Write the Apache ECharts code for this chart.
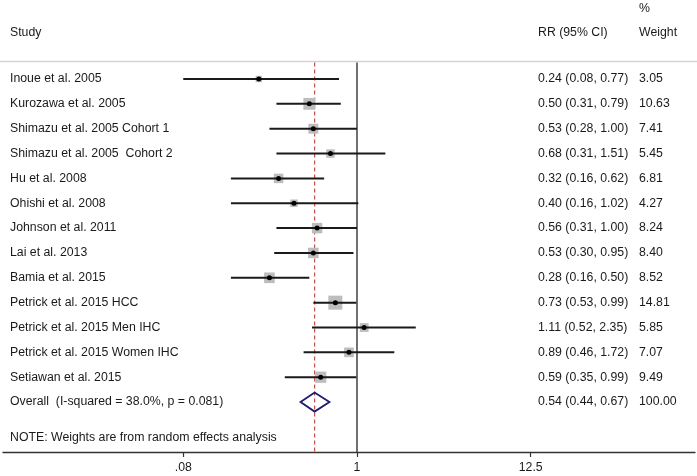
<!DOCTYPE html>
<html><head><meta charset="utf-8">
<script src="https://cdn.jsdelivr.net/npm/echarts@6/dist/echarts.min.js"></script>
<style>html,body{margin:0;padding:0;background:#fff}#c{width:697px;height:476px}</style>
</head><body><div id="c"></div>
<script>
// ---- data ----
const studies = ['Inoue et al. 2005','Kurozawa et al. 2005','Shimazu et al. 2005 Cohort 1','Shimazu et al. 2005  Cohort 2','Hu et al. 2008','Ohishi et al. 2008','Johnson et al. 2011','Lai et al. 2013','Bamia et al. 2015','Petrick et al. 2015 HCC','Petrick et al. 2015 Men IHC','Petrick et al. 2015 Women IHC','Setiawan et al. 2015'];
const rr      = [0.24,0.50,0.53,0.68,0.32,0.40,0.56,0.53,0.28,0.73,1.11,0.89,0.59];
const ciLow   = [0.08,0.31,0.28,0.31,0.16,0.16,0.31,0.30,0.16,0.53,0.52,0.46,0.35];
const ciHigh  = [0.77,0.79,1.00,1.51,0.62,1.02,1.00,0.95,0.50,0.99,2.35,1.72,0.99];
const weights = [3.05,10.63,7.41,5.45,6.81,4.27,8.24,8.40,8.52,14.81,5.85,7.07,9.49];
const overallLabel = 'Overall  (I-squared = 38.0%, p = 0.081)';
const overallRR = 0.54, overallLow = 0.44, overallHigh = 0.67, overallWeight = 100.00;
const tickValues = [0.08, 1, 12.5];
const tickLabels = ['.08', '1', '12.5'];
const noteText = 'NOTE: Weights are from random effects analysis';
const headerStudy = 'Study', headerRR = 'RR (95% CI)', headerPct = '%', headerWeight = 'Weight';

// ---- layout ----
const L = Math.log10;
const FONT = '"Liberation Sans", Arial, sans-serif';
const TXT = '#1a1a1a';
const ROW_OVERALL = studies.length;
const ROW_NOTE = 14.45, ROW_HEAD = -1.85, ROW_PCT = -2.82, ROW_TOP = -0.70;
const X_STUDY = 10, X_RR = 538, X_W = 639;
const FS = 12.3;
const fmt = v => v.toFixed(2);

const chart = echarts.init(document.getElementById('c'), null, {renderer: 'canvas'});

function textEl(x, y, s) {
  return {type: 'text', x: x, y: y, style: {text: s, fill: TXT, font: FS + 'px ' + FONT, verticalAlign: 'middle', align: 'left'}};
}

const option = {
  backgroundColor: '#fff',
  animation: false,
  grid: {left: 3, right: 2, top: 0, bottom: 24, containLabel: false, outerBoundsMode: 'none'},
  xAxis: {
    type: 'value', min: -2.235, max: 2.134,
    splitLine: {show: false},
    axisLine: {show: true, onZero: false, lineStyle: {color: '#333', width: 1.3}},
    axisTick: {show: true, length: 5, inside: false, customValues: tickValues.map(L), lineStyle: {color: '#333', width: 1.2}},
    axisLabel: {show: true, margin: 10, color: TXT, fontSize: FS, fontFamily: FONT,
      customValues: tickValues.map(L),
      formatter: v => { let best = 0; tickValues.forEach((t, i) => { if (Math.abs(L(t) - v) < Math.abs(L(tickValues[best]) - v)) best = i; }); return tickLabels[best]; }}
  },
  yAxis: {type: 'value', min: -3.179, max: 15.01, inverse: true, show: false},
  series: [
    { // reference lines
      type: 'custom', silent: true, z: 1,
      data: [[0]],
      renderItem: (params, api) => {
        const top = api.coord([0, ROW_TOP])[1];
        const bot = api.coord([0, 15.01])[1];
        const x1 = api.coord([0, 0])[0];
        const xr = api.coord([L(overallRR), 0])[0];
        const xl = api.coord([-2.235, 0])[0] - 3;
        const xe = api.coord([2.134, 0])[0] + 2;
        return {type: 'group', children: [
          {type: 'line', shape: {x1: xl, y1: top, x2: xe, y2: top}, style: {stroke: '#d4d4d4', lineWidth: 1.5}},
          {type: 'line', shape: {x1: x1, y1: top + 1, x2: x1, y2: bot}, style: {stroke: '#333', lineWidth: 1.4}},
          {type: 'line', shape: {x1: xr, y1: top + 1, x2: xr, y2: bot}, style: {stroke: '#c0504d', lineWidth: 1.2, lineDash: [4, 3]}}
        ]};
      }
    },
    { // study rows
      type: 'custom', z: 3,
      data: studies.map((s, i) => [i, L(rr[i]), L(ciLow[i]), L(ciHigh[i]), weights[i]]),
      renderItem: (params, api) => {
        const row = api.value(0);
        const c = api.coord([api.value(1), row]);
        const lo = api.coord([api.value(2), row]);
        const hi = api.coord([api.value(3), row]);
        const side = 3.64 * Math.sqrt(api.value(4));
        return {type: 'group', children: [
          {type: 'rect', shape: {x: c[0] - side / 2, y: c[1] - side / 2, width: side, height: side}, style: {fill: '#bdbdbd'}},
          {type: 'line', shape: {x1: lo[0], y1: lo[1], x2: hi[0], y2: hi[1]}, style: {stroke: '#1a1a1a', lineWidth: 2}},
          {type: 'circle', shape: {cx: c[0], cy: c[1], r: 2.5}, style: {fill: '#000'}}
        ]};
      }
    },
    { // overall diamond
      type: 'custom', z: 3,
      data: [[ROW_OVERALL, L(overallRR), L(overallLow), L(overallHigh)]],
      renderItem: (params, api) => {
        const row = api.value(0);
        const c = api.coord([api.value(1), row]);
        const lo = api.coord([api.value(2), row]);
        const hi = api.coord([api.value(3), row]);
        const h = 9.5;
        return {type: 'polygon', shape: {points: [[lo[0], c[1]], [c[0], c[1] - h], [hi[0], c[1]], [c[0], c[1] + h]]}, style: {fill: 'none', stroke: '#1c1c6e', lineWidth: 1.8}};
      }
    },
    { // text columns
      type: 'custom', z: 4, silent: true,
      data: [[0]],
      renderItem: (params, api) => {
        const y = r => api.coord([0, r])[1];
        const ch = [];
        ch.push(textEl(X_W, y(ROW_PCT), headerPct));
        ch.push(textEl(X_STUDY, y(ROW_HEAD), headerStudy));
        ch.push(textEl(X_RR, y(ROW_HEAD), headerRR));
        ch.push(textEl(X_W, y(ROW_HEAD), headerWeight));
        studies.forEach((s, i) => {
          ch.push(textEl(X_STUDY, y(i), s));
          ch.push(textEl(X_RR, y(i), fmt(rr[i]) + ' (' + fmt(ciLow[i]) + ', ' + fmt(ciHigh[i]) + ')'));
          ch.push(textEl(X_W, y(i), fmt(weights[i])));
        });
        ch.push(textEl(X_STUDY, y(ROW_OVERALL), overallLabel));
        ch.push(textEl(X_RR, y(ROW_OVERALL), fmt(overallRR) + ' (' + fmt(overallLow) + ', ' + fmt(overallHigh) + ')'));
        ch.push(textEl(X_W, y(ROW_OVERALL), fmt(overallWeight)));
        ch.push(textEl(X_STUDY, y(ROW_NOTE), noteText));
        return {type: 'group', children: ch};
      }
    }
  ]
};
chart.setOption(option);
</script></body></html>
